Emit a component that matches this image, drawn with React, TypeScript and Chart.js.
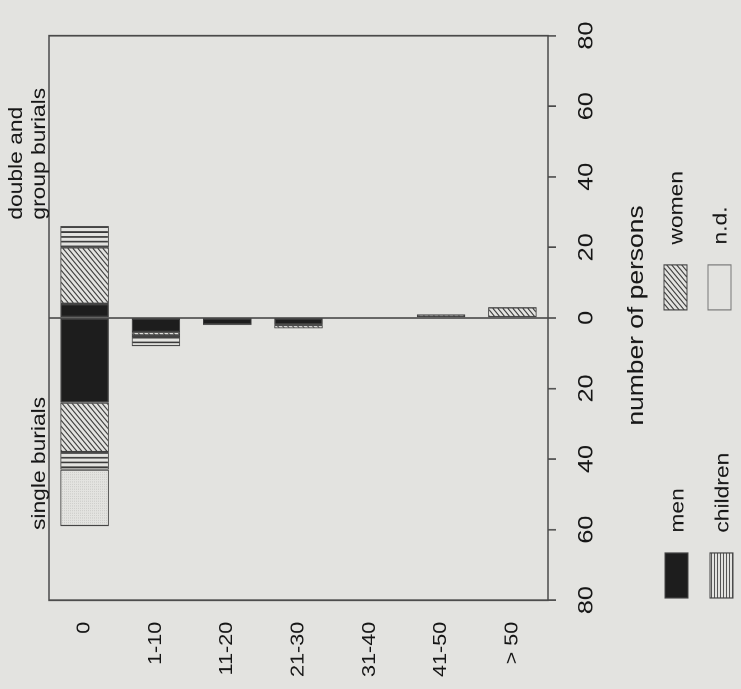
import React, { useEffect, useRef } from 'react';
import { Chart, registerables } from 'chart.js';

Chart.register(...registerables);

// ---- data ----
const categories = ['0', '1-10', '11-20', '21-30', '31-40', '41-50', '> 50'];
const menSingle = [24, 4, 2, 2, 0, 0, 0];
const womenSingle = [14, 1, 0, 1, 0, 0, 0];
const childrenSingle = [5, 3, 0, 0, 0, 0, 0];
const ndSingle = [16, 0, 0, 0, 0, 0, 0];
const menDouble = [4, 0, 0, 0, 0, 0, 0];
const womenDouble = [16, 0, 0, 0, 0, 1, 3];
const childrenDouble = [6, 0, 0, 0, 0, 0, 0];
const ndDouble = [0, 0, 0, 0, 0, 0, 0];
const legendLabels = ['men', 'women', 'children', 'n.d.'];
const singleLabel = 'single burials';
const doubleLabelLines = ['double and', 'group burials'];
const axisTitle = 'number of persons';

// ---- style ----
const BG = '#e3e3e0';
const INK = '#161616';
const LINE = '#4a4a4a';
const FONT = '"Liberation Sans", Arial, sans-serif';
const W = 574; // unrotated, pre-stretch width
const H = 741; // unrotated height
const STRETCH = 689 / W;

function makePattern(w: number, h: number, draw: (c: CanvasRenderingContext2D) => void) {
  const s = 2;
  const cv = document.createElement('canvas');
  cv.width = w * s;
  cv.height = h * s;
  const c = cv.getContext('2d') as CanvasRenderingContext2D;
  c.scale(s, s);
  c.fillStyle = BG;
  c.fillRect(0, 0, w, h);
  draw(c);
  const p = c.createPattern(cv, 'repeat') as CanvasPattern;
  p.setTransform(new DOMMatrix([1 / s, 0, 0, 1 / s, 0, 0]));
  return p;
}

export default function App() {
  const ref = useRef<HTMLCanvasElement | null>(null);

  useEffect(() => {
    document.body.style.background = BG;
    const canvas = ref.current;
    if (!canvas) return;

    const men = '#1d1d1d';
    const women = makePattern(5, 5, (c) => {
      c.strokeStyle = '#3e3e3e';
      c.lineWidth = 1;
      c.beginPath();
      c.moveTo(0, 5); c.lineTo(5, 0);
      c.moveTo(-1, 1); c.lineTo(1, -1);
      c.moveTo(4, 6); c.lineTo(6, 4);
      c.stroke();
    });
    const children = makePattern(4, 4, (c) => {
      c.fillStyle = '#3a3a3a';
      c.fillRect(0, 0, 1.4, 4);
    });
    const childrenLegend = makePattern(3, 3, (c) => {
      c.fillStyle = '#555';
      c.fillRect(0, 0, 3, 1);
    });
    const nd = makePattern(2, 2, (c) => {
      c.fillStyle = '#cfcfcc';
      c.fillRect(0, 0, 1, 1);
    });

    const neg = (a: number[]) => a.map((v) => -v);
    const ds = (label: string, data: number[], bg: any) => ({
      label,
      data,
      backgroundColor: bg,
      borderColor: '#3a3a3a',
      borderWidth: 1,
      borderSkipped: false,
      stack: 's',
      barPercentage: 0.68,
      categoryPercentage: 1,
    });

    const extras = {
      id: 'extras',
      afterDraw(chart: any) {
        const ctx = chart.ctx as CanvasRenderingContext2D;
        const a = chart.chartArea;
        ctx.save();
        // frame
        ctx.strokeStyle = LINE;
        ctx.lineWidth = 1.5;
        ctx.strokeRect(a.left, a.top, a.right - a.left, a.bottom - a.top);
        // side labels
        ctx.fillStyle = INK;
        ctx.font = `19px ${FONT}`;
        ctx.textAlign = 'left';
        ctx.textBaseline = 'alphabetic';
        ctx.fillText(singleLabel, 132.5, 45);
        ctx.fillText(doubleLabelLines[0], 391, 22);
        ctx.fillText(doubleLabelLines[1], 391, 45);
        // axis title
        ctx.font = `22px ${FONT}`;
        ctx.textAlign = 'center';
        ctx.textBaseline = 'middle';
        ctx.fillText(axisTitle, (a.left + a.right) / 2 + 2, 637);
        // legend
        const fills: any[] = [men, women, childrenLegend, null];
        const pos = [
          [75.8, 665],
          [315.8, 664],
          [75.8, 710],
          [315.8, 708],
        ];
        ctx.font = `19px ${FONT}`;
        ctx.textAlign = 'left';
        for (let i = 0; i < 4; i++) {
          const [x, y] = pos[i];
          const sw = 37.5, sh = 23;
          if (fills[i]) {
            ctx.fillStyle = fills[i];
            ctx.fillRect(x, y, sw, sh);
          }
          ctx.strokeStyle = i === 3 ? '#777' : '#444';
          ctx.lineWidth = 1;
          ctx.strokeRect(x, y, sw, sh);
          ctx.fillStyle = INK;
          ctx.fillText(legendLabels[i], x + 54.5, y + sh / 2 + 2);
        }
        ctx.restore();
      },
    };

    const chart = new Chart(canvas, {
      type: 'bar',
      data: {
        labels: categories,
        datasets: [
          ds('men single', neg(menSingle), men),
          ds('men double', menDouble, men),
          ds('women single', neg(womenSingle), women),
          ds('women double', womenDouble, women),
          ds('children single', neg(childrenSingle), children),
          ds('children double', childrenDouble, children),
          ds('n.d. single', neg(ndSingle), nd),
          ds('n.d. double', ndDouble, nd),
        ],
      },
      options: {
        indexAxis: 'y',
        animation: false,
        responsive: false,
        devicePixelRatio: 2,
        layout: { padding: { left: 0, right: 18, top: 49, bottom: 0 } },
        plugins: {
          legend: { display: false },
          tooltip: { enabled: false },
          title: { display: false },
        },
        scales: {
          y: {
            type: 'category',
            stacked: true,
            position: 'left',
            afterFit: (s: any) => { s.width = 74; },
            grid: { display: false, drawTicks: false },
            border: { display: false },
            ticks: { color: INK, font: { family: FONT, size: 18 }, padding: 18 },
          },
          x: {
            type: 'linear',
            stacked: true,
            min: -80,
            max: 80,
            afterFit: (s: any) => { s.height = 193; },
            border: { display: false },
            grid: {
              color: (c: any) => (c.tick && c.tick.value === 0 ? LINE : 'rgba(0,0,0,0)'),
              tickColor: LINE,
              tickLength: 8,
              lineWidth: 1.3,
            },
            ticks: {
              stepSize: 20,
              color: INK,
              font: { family: FONT, size: 21 },
              padding: 18,
              callback: (v: any) => String(Math.abs(Number(v))),
            },
          },
        },
      },
      plugins: [extras],
    } as any);

    return () => chart.destroy();
  }, []);

  return (
    <div style={{ position: 'fixed', left: 0, top: 0, width: 741, height: 689, background: BG, overflow: 'hidden' }}>
      <div
        style={{
          position: 'absolute',
          left: 0,
          top: 0,
          width: W,
          height: H,
          transformOrigin: '0 0',
          transform: `translate(0px, 689px) rotate(-90deg) scaleX(${STRETCH})`,
        }}
      >
        <canvas ref={ref} width={W} height={H} style={{ display: 'block', width: W, height: H }} />
      </div>
    </div>
  );
}
